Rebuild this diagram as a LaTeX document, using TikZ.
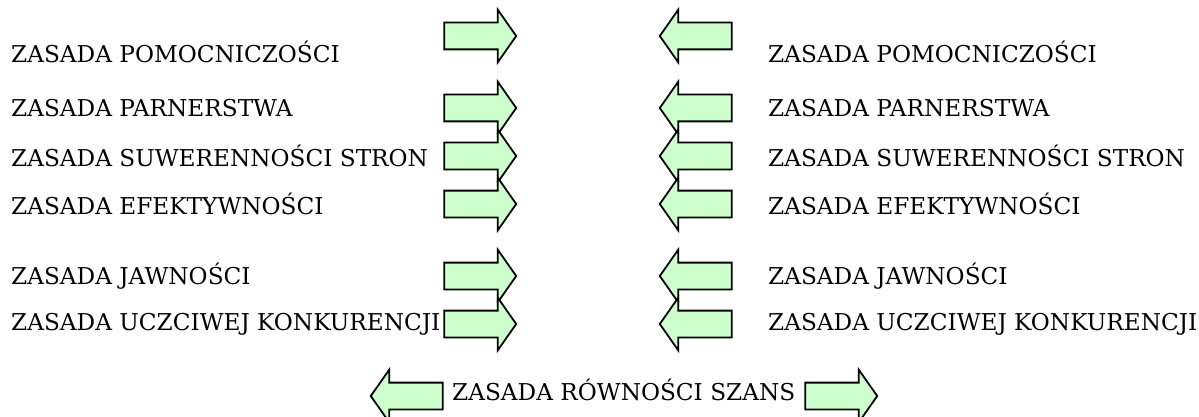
\documentclass[tikz,border=0pt]{standalone}
\usepackage{fontspec}
\setmainfont{DejaVu Serif}
\usetikzlibrary{shapes.arrows}
\definecolor{arrowgreen}{RGB}{204,255,204}

\begin{document}
\begin{tikzpicture}[x=1pt,y=-1pt]

\def\leftx{11}
\def\rightx{768}
\def\leftarr{475.5}
\def\rightarr{700.5}

\tikzstyle{rule}=[anchor=west,inner sep=0pt,font=\fontsize{23.2}{26}\selectfont]
\tikzstyle{block}=[single arrow,draw=black,line width=1.8pt,fill=arrowgreen,minimum height=72pt,text height=12.5pt,text depth=12.5pt,inner sep=0pt,single arrow head extend=13pt,single arrow head indent=0pt,single arrow tip angle=110]
\tikzstyle{toright}=[block];
\tikzstyle{toleft}=[block,shape border rotate=180];

\useasboundingbox (0,0) rectangle (1199,417);

%left column
\node[rule] (l1) at (\leftx,52) {ZASADA POMOCNICZOŚCI};
\node[rule] (l2) at (\leftx,108) {ZASADA PARNERSTWA};
\node[rule] (l3) at (\leftx,156) {ZASADA SUWERENNOŚCI STRON};
\node[rule] (l4) at (\leftx,204) {ZASADA EFEKTYWNOŚCI};
\node[rule] (l5) at (\leftx,276) {ZASADA JAWNOŚCI};
\node[rule] (l6) at (\leftx,324) {ZASADA UCZCIWEJ KONKURENCJI};

\node[toright] (la1) at (\leftarr,36) {};
\node[toright] (la2) at (\leftarr,108) {};
\node[toright] (la3) at (\leftarr,156) {};
\node[toright] (la4) at (\leftarr,204) {};
\node[toright] (la5) at (\leftarr,276) {};
\node[toright] (la6) at (\leftarr,324) {};

%right column
\node[toleft] (ra1) at (\rightarr,36) {};
\node[toleft] (ra2) at (\rightarr,108) {};
\node[toleft] (ra3) at (\rightarr,156) {};
\node[toleft] (ra4) at (\rightarr,204) {};
\node[toleft] (ra5) at (\rightarr,276) {};
\node[toleft] (ra6) at (\rightarr,324) {};

\node[rule] (r1) at (\rightx,52) {ZASADA POMOCNICZOŚCI};
\node[rule] (r2) at (\rightx,108) {ZASADA PARNERSTWA};
\node[rule] (r3) at (\rightx,156) {ZASADA SUWERENNOŚCI STRON};
\node[rule] (r4) at (\rightx,204) {ZASADA EFEKTYWNOŚCI};
\node[rule] (r5) at (\rightx,276) {ZASADA JAWNOŚCI};
\node[rule] (r6) at (\rightx,324) {ZASADA UCZCIWEJ KONKURENCJI};

%bottom
\node[toleft] (ba1) at (411.5,396) {};
\node[rule] (b) at (452,390) {ZASADA RÓWNOŚCI SZANS};
\node[toright] (ba2) at (836.5,396) {};

\end{tikzpicture}
\end{document}
